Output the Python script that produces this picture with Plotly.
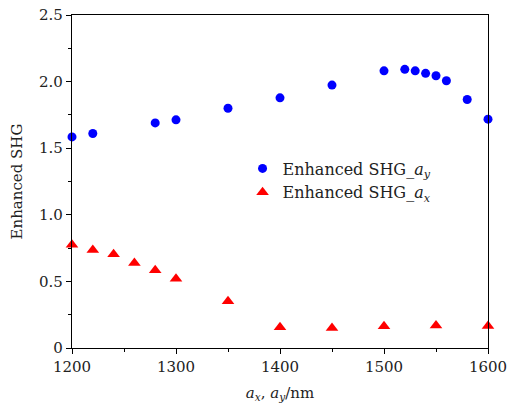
import plotly.graph_objects as go

# dados
ay_x = [1200, 1220, 1280, 1300, 1350, 1400, 1450, 1500, 1520, 1530, 1540, 1550, 1560, 1580, 1600]
ay_y = [1.585, 1.61, 1.69, 1.713, 1.80, 1.878, 1.974, 2.081, 2.092, 2.081, 2.062, 2.044, 2.006, 1.866, 1.718]

ax_x = [1200, 1220, 1240, 1260, 1280, 1300, 1350, 1400, 1450, 1500, 1550, 1600]
ax_y = [0.775, 0.736, 0.704, 0.639, 0.584, 0.519, 0.351, 0.156, 0.150, 0.163, 0.168, 0.165]

x_ticks = [1200, 1300, 1400, 1500, 1600]
y_ticks = [0, 0.5, 1.0, 1.5, 2.0, 2.5]
y_ticktext = ["0", "0.5", "1.0", "1.5", "2.0", "2.5"]

fonte = "DejaVu Serif"
cor_texto = "#222"

fig = go.Figure()
fig.add_trace(go.Scatter(
    x=ay_x, y=ay_y, mode="markers",
    name="Enhanced SHG_<i>a</i><sub><i>y</i></sub>",
    marker=dict(symbol="circle", size=9, color="#0000ff"),
    cliponaxis=False,
))
fig.add_trace(go.Scatter(
    x=ax_x, y=ax_y, mode="markers",
    name="Enhanced SHG_<i>a</i><sub><i>x</i></sub>",
    marker=dict(symbol="triangle-up", size=11, color="#ff0000"),
    cliponaxis=False,
))

eixo = dict(
    showline=True, linecolor="black", linewidth=1.2, mirror=True,
    ticks="outside", ticklen=5, tickcolor="black", showgrid=False, zeroline=False,
    automargin=False,
    tickfont=dict(family=fonte, size=15, color=cor_texto),
)

fig.update_xaxes(
    range=[1200, 1600], tickvals=x_ticks,
    minor=dict(ticks="outside", ticklen=3, dtick=50, tick0=1200, tickcolor="black"),
    title=dict(text="<i>a</i><sub><i>x</i></sub>, <i>a</i><sub><i>y</i></sub>/nm",
               font=dict(family=fonte, size=15, color=cor_texto), standoff=12),
    **eixo,
)
fig.update_yaxes(
    range=[0, 2.5], tickvals=y_ticks, ticktext=y_ticktext,
    minor=dict(ticks="outside", ticklen=3, dtick=0.25, tick0=0, tickcolor="black"),
    title=dict(text="Enhanced SHG", font=dict(family=fonte, size=15, color=cor_texto), standoff=12),
    **eixo,
)

fig.update_layout(
    width=509, height=405,
    margin=dict(l=72, r=21, t=15, b=57),
    plot_bgcolor="white", paper_bgcolor="white",
    legend=dict(x=0.41, y=0.59, xanchor="left", yanchor="top",
                font=dict(family=fonte, size=16, color=cor_texto),
                bgcolor="rgba(0,0,0,0)", itemwidth=30, tracegroupgap=0),
)

# tirar a margem padrão do body para a figura ocupar a janela toda
fig.write_html("out.html", config={"displayModeBar": False},
               post_script="document.body.style.margin='0';")
